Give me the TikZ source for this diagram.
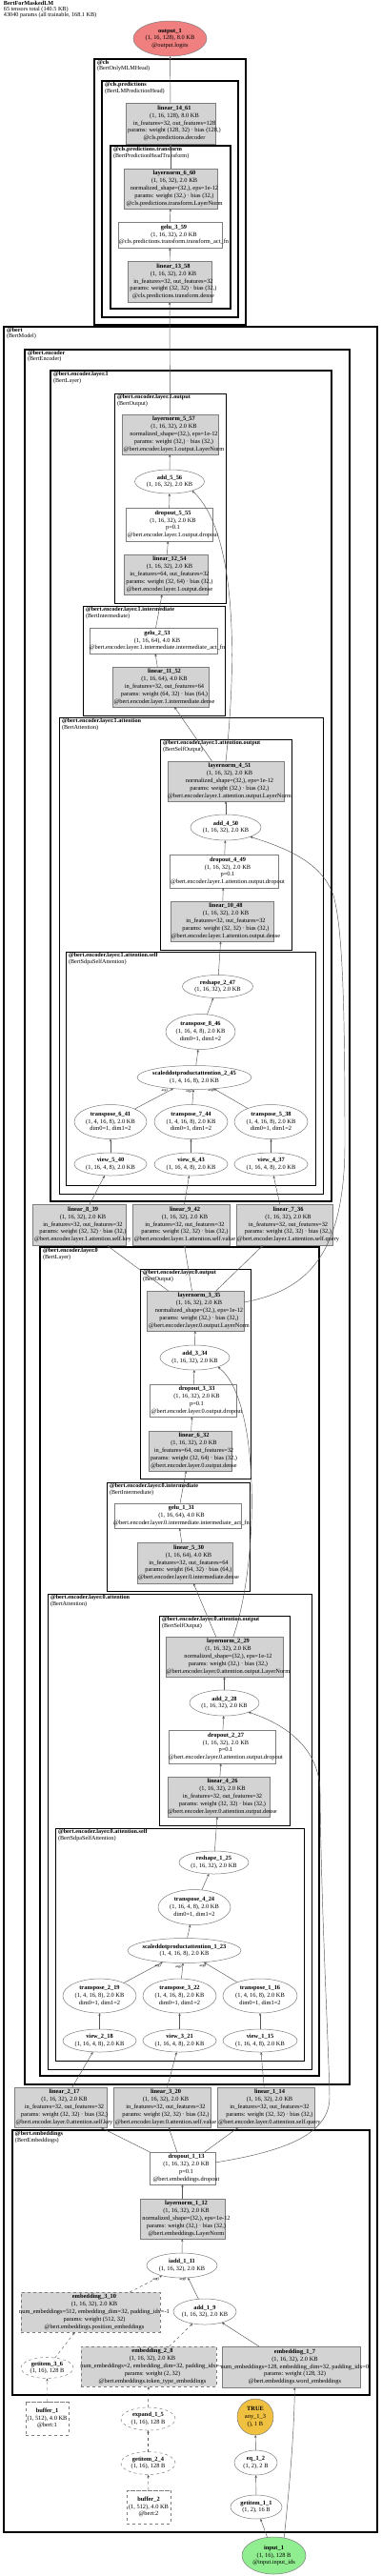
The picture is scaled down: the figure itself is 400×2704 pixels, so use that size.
\documentclass[tikz,border=0pt]{standalone}
\usepackage{fontspec}
\setmainfont{Liberation Serif}
\usetikzlibrary{shapes.geometric,arrows.meta}
\definecolor{boxgray}{RGB}{211,211,211}
\definecolor{bordergray}{RGB}{125,125,125}
\definecolor{edgegray}{RGB}{85,85,85}
\definecolor{outred}{RGB}{240,128,128}
\definecolor{ingreen}{RGB}{144,238,144}
\definecolor{anygold}{RGB}{240,192,64}
\newcommand{\btitle}[1]{\makebox[0pt]{\hspace*{8pt}\bfseries\detokenize{#1}}}
\newcommand{\bline}[1]{\makebox[0pt]{\hspace*{8pt}\detokenize{#1}}}
\newcommand{\etitle}[1]{\makebox[0pt]{\bfseries\detokenize{#1}}}
\newcommand{\eline}[1]{\makebox[0pt]{\detokenize{#1}}}
\tikzset{
  every node/.style={font=\fontsize{6.4}{7.8}\selectfont, inner sep=0pt, outer sep=0pt},
  sz/.style 2 args={minimum width=#1pt, minimum height=#2pt},
  gbox/.style={rectangle, draw=bordergray, fill=boxgray, line width=0.5pt, align=center},
  dgbox/.style={gbox, dashed},
  wbox/.style={rectangle, draw=bordergray, fill=white, line width=0.5pt, align=center},
  ell/.style={ellipse, draw=bordergray, fill=white, line width=0.5pt, align=center},
  dell/.style={ell, dashed},
  cyl/.style={cylinder, shape border rotate=90, aspect=0.4, draw=bordergray, dashed, fill=white, line width=0.5pt, align=center},
  edge/.style={draw=edgegray, line width=0.45pt, -{Stealth[length=3pt,width=2.4pt]}},
  dedge/.style={edge, dashed},
  clu/.style={draw=black},
  clab/.style={anchor=north west, align=left, font=\fontsize{6.2}{5.6}\selectfont},
  elab/.style={font=\fontsize{3.8}{4}\selectfont}
}
\begin{document}
\begin{tikzpicture}[x=1pt,y=-1pt]
\useasboundingbox (0,0) rectangle (400,2704);
\fill[white] (0,0) rectangle (400,2704);
% header
\node[anchor=north west, align=left, font=\fontsize{6.2}{5.7}\selectfont] (hdr) at (4,1.5) {\textbf{BertForMaskedLM}\\65 tensors total (140.5 KB)\\43040 params (all trainable, 168.1 KB)};

% clusters
\draw[clu, line width=1.6pt] (99,62) rectangle (258,341);
\node[clab] (c_cls) at (102,63.5) {\textbf{@cls}\\(BertOnlyMLMHead)};
\draw[clu, line width=1.3pt] (107,85) rectangle (250,333);
\node[clab] (c_clsp) at (110,86.5) {\textbf{@cls.predictions}\\(BertLMPredictionHead)};
\draw[clu, line width=1.1pt] (116,153) rectangle (242,324);
\node[clab] (c_clspt) at (119,154.5) {\textbf{@cls.predictions.transform}\\(BertPredictionHeadTransform)};

\draw[clu, line width=1.6pt] (4,343) rectangle (396,2658);
\node[clab] (c_bert) at (7,344.5) {\textbf{@bert}\\(BertModel)};
\draw[clu, line width=1.3pt] (26,367) rectangle (367,2188);
\node[clab] (c_enc) at (29,368.5) {\textbf{@bert.encoder}\\(BertEncoder)};
\draw[clu, line width=1.1pt] (53,389) rectangle (348,1261);
\node[clab] (c_l1) at (56,390.5) {\textbf{@bert.encoder.layer.1}\\(BertLayer)};
\draw[clu, line width=0.9pt] (120,413) rectangle (237,633);
\node[clab] (c_l1o) at (123,414.5) {\textbf{@bert.encoder.layer.1.output}\\(BertOutput)};
\draw[clu, line width=0.9pt] (87,636) rectangle (236,751);
\node[clab] (c_l1i) at (90,637.5) {\textbf{@bert.encoder.layer.1.intermediate}\\(BertIntermediate)};
\draw[clu, line width=0.9pt] (62,753) rectangle (339,1253);
\node[clab] (c_l1a) at (65,754.5) {\textbf{@bert.encoder.layer.1.attention}\\(BertAttention)};
\draw[clu, line width=0.75pt] (168,776) rectangle (306,997);
\node[clab] (c_l1ao) at (171,777.5) {\textbf{@bert.encoder.layer.1.attention.output}\\(BertSelfOutput)};
\draw[clu, line width=0.75pt] (69,999) rectangle (331,1244);
\node[clab] (c_l1as) at (72,1000.5) {\textbf{@bert.encoder.layer.1.attention.self}\\(BertSdpaSelfAttention)};
\draw[clu, line width=1.1pt] (42,1309) rectangle (335,2179);
\node[clab] (c_l0) at (45,1310.5) {\textbf{@bert.encoder.layer.0}\\(BertLayer)};
\draw[clu, line width=0.9pt] (147,1332) rectangle (263,1552);
\node[clab] (c_l0o) at (150,1333.5) {\textbf{@bert.encoder.layer.0.output}\\(BertOutput)};
\draw[clu, line width=0.9pt] (112,1556) rectangle (262,1670);
\node[clab] (c_l0i) at (115,1557.5) {\textbf{@bert.encoder.layer.0.intermediate}\\(BertIntermediate)};
\draw[clu, line width=0.9pt] (50,1673) rectangle (327,2172);
\node[clab] (c_l0a) at (53,1674.5) {\textbf{@bert.encoder.layer.0.attention}\\(BertAttention)};
\draw[clu, line width=0.75pt] (167,1696) rectangle (304,1916);
\node[clab] (c_l0ao) at (170,1697.5) {\textbf{@bert.encoder.layer.0.attention.output}\\(BertSelfOutput)};
\draw[clu, line width=0.75pt] (58,1919) rectangle (319,2163);
\node[clab] (c_l0as) at (61,1920.5) {\textbf{@bert.encoder.layer.0.attention.self}\\(BertSdpaSelfAttention)};
\draw[clu, line width=1.3pt] (13,2236) rectangle (388,2514);
\node[clab] (c_emb) at (16,2237.5) {\textbf{@bert.embeddings}\\(BertEmbeddings)};

% nodes: head
\node[ell, fill=outred, sz={77}{37}] (out1) at (178.5,40.5) {\etitle{output_1}\\\eline{(1, 16, 128), 8.0 KB}\\\eline{@output.logits}};
\node[gbox, sz={94}{43}] (lin14) at (179,129.5) {\btitle{linear_14_61}\\\bline{(1, 16, 128), 8.0 KB}\\\bline{in_features=32, out_features=128}\\\bline{params: weight (128, 32) · bias (128,)}\\\bline{@cls.predictions.decoder}};
\node[gbox, sz={98}{42}] (ln6) at (179,198) {\btitle{layernorm_6_60}\\\bline{(1, 16, 32), 2.0 KB}\\\bline{normalized_shape=(32,), eps=1e-12}\\\bline{params: weight (32,) · bias (32,)}\\\bline{@cls.predictions.transform.LayerNorm}};
\node[wbox, sz={109}{27}] (gelu3) at (178.5,246.5) {\btitle{gelu_3_59}\\\bline{(1, 16, 32), 2.0 KB}\\\bline{@cls.predictions.transform.transform_act_fn}};
\node[gbox, sz={88}{43}] (lin13) at (178,295.5) {\btitle{linear_13_58}\\\bline{(1, 16, 32), 2.0 KB}\\\bline{in_features=32, out_features=32}\\\bline{params: weight (32, 32) · bias (32,)}\\\bline{@cls.predictions.transform.dense}};

% layer 1
\node[gbox, sz={101}{42}] (ln5) at (178.5,456) {\btitle{layernorm_5_57}\\\bline{(1, 16, 32), 2.0 KB}\\\bline{normalized_shape=(32,), eps=1e-12}\\\bline{params: weight (32,) · bias (32,)}\\\bline{@bert.encoder.layer.1.output.LayerNorm}};
\node[ell, sz={73}{25}] (add5) at (178,505.5) {\etitle{add_5_56}\\\eline{(1, 16, 32), 2.0 KB}};
\node[wbox, sz={91}{35}] (drop5) at (177.5,550.5) {\btitle{dropout_5_55}\\\bline{(1, 16, 32), 2.0 KB}\\\bline{p=0.1}\\\bline{@bert.encoder.layer.1.output.dropout}};
\node[gbox, sz={88}{42}] (lin12) at (174,603) {\btitle{linear_12_54}\\\bline{(1, 16, 32), 2.0 KB}\\\bline{in_features=64, out_features=32}\\\bline{params: weight (32, 64) · bias (32,)}\\\bline{@bert.encoder.layer.1.output.dense}};
\node[wbox, sz={134}{27}] (gelu2) at (161,672.5) {\btitle{gelu_2_53}\\\bline{(1, 16, 64), 4.0 KB}\\\bline{@bert.encoder.layer.1.intermediate.intermediate_act_fn}};
\node[gbox, sz={101}{42}] (lin11) at (168.5,721) {\btitle{linear_11_52}\\\bline{(1, 16, 64), 4.0 KB}\\\bline{in_features=32, out_features=64}\\\bline{params: weight (64, 32) · bias (64,)}\\\bline{@bert.encoder.layer.1.intermediate.dense}};
\node[gbox, sz={122}{42}] (ln4) at (237,820) {\btitle{layernorm_4_51}\\\bline{(1, 16, 32), 2.0 KB}\\\bline{normalized_shape=(32,), eps=1e-12}\\\bline{params: weight (32,) · bias (32,)}\\\bline{@bert.encoder.layer.1.attention.output.LayerNorm}};
\node[ell, sz={74}{27}] (add4) at (237,868.5) {\etitle{add_4_50}\\\eline{(1, 16, 32), 2.0 KB}};
\node[wbox, sz={114}{35}] (drop4) at (235,914.5) {\btitle{dropout_4_49}\\\bline{(1, 16, 32), 2.0 KB}\\\bline{p=0.1}\\\bline{@bert.encoder.layer.1.attention.output.dropout}};
\node[gbox, sz={108}{42}] (lin10) at (233,967) {\btitle{linear_10_48}\\\bline{(1, 16, 32), 2.0 KB}\\\bline{in_features=32, out_features=32}\\\bline{params: weight (32, 32) · bias (32,)}\\\bline{@bert.encoder.layer.1.attention.output.dense}};
\node[ell, sz={74}{24}] (resh2) at (228.5,1035.5) {\etitle{reshape_2_47}\\\eline{(1, 16, 32), 2.0 KB}};
\node[ell, sz={73}{37}] (tr8) at (210.5,1083) {\etitle{transpose_8_46}\\\eline{(1, 16, 4, 8), 2.0 KB}\\\eline{dim0=1, dim1=2}};
\node[ell, sz={120}{25}] (sdpa2) at (204,1131) {\etitle{scaleddotproductattention_2_45}\\\eline{(1, 4, 16, 8), 2.0 KB}};
\node[ell, sz={76}{36}] (tr6) at (116,1177.5) {\etitle{transpose_6_41}\\\eline{(1, 4, 16, 8), 2.0 KB}\\\eline{dim0=1, dim1=2}};
\node[ell, sz={77}{36}] (tr7) at (200.5,1177.5) {\etitle{transpose_7_44}\\\eline{(1, 4, 16, 8), 2.0 KB}\\\eline{dim0=1, dim1=2}};
\node[ell, sz={77}{36}] (tr5) at (284.5,1177.5) {\etitle{transpose_5_38}\\\eline{(1, 4, 16, 8), 2.0 KB}\\\eline{dim0=1, dim1=2}};
\node[ell, sz={76}{24}] (v5) at (116,1222) {\etitle{view_5_40}\\\eline{(1, 16, 4, 8), 2.0 KB}};
\node[ell, sz={77}{24}] (v6) at (200.5,1222) {\etitle{view_6_43}\\\eline{(1, 16, 4, 8), 2.0 KB}};
\node[ell, sz={77}{24}] (v4) at (284.5,1222) {\etitle{view_4_37}\\\eline{(1, 16, 4, 8), 2.0 KB}};
\node[gbox, sz={98}{43}] (lin8) at (83,1285.5) {\btitle{linear_8_39}\\\bline{(1, 16, 32), 2.0 KB}\\\bline{in_features=32, out_features=32}\\\bline{params: weight (32, 32) · bias (32,)}\\\bline{@bert.encoder.layer.1.attention.self.key}};
\node[gbox, sz={102}{43}] (lin9) at (190,1285.5) {\btitle{linear_9_42}\\\bline{(1, 16, 32), 2.0 KB}\\\bline{in_features=32, out_features=32}\\\bline{params: weight (32, 32) · bias (32,)}\\\bline{@bert.encoder.layer.1.attention.self.value}};
\node[gbox, sz={101}{43}] (lin7) at (298.5,1285.5) {\btitle{linear_7_36}\\\bline{(1, 16, 32), 2.0 KB}\\\bline{in_features=32, out_features=32}\\\bline{params: weight (32, 32) · bias (32,)}\\\bline{@bert.encoder.layer.1.attention.self.query}};

% layer 0
\node[gbox, sz={102}{42}] (ln3) at (205,1376) {\btitle{layernorm_3_35}\\\bline{(1, 16, 32), 2.0 KB}\\\bline{normalized_shape=(32,), eps=1e-12}\\\bline{params: weight (32,) · bias (32,)}\\\bline{@bert.encoder.layer.0.output.LayerNorm}};
\node[ell, sz={73}{26}] (add3) at (204.5,1425) {\etitle{add_3_34}\\\eline{(1, 16, 32), 2.0 KB}};
\node[wbox, sz={91}{34}] (drop3) at (202.5,1470) {\btitle{dropout_3_33}\\\bline{(1, 16, 32), 2.0 KB}\\\bline{p=0.1}\\\bline{@bert.encoder.layer.0.output.dropout}};
\node[gbox, sz={87}{42}] (lin6) at (199.5,1523) {\btitle{linear_6_32}\\\bline{(1, 16, 32), 2.0 KB}\\\bline{in_features=64, out_features=32}\\\bline{params: weight (32, 64) · bias (32,)}\\\bline{@bert.encoder.layer.0.output.dense}};
\node[wbox, sz={133}{26}] (gelu1) at (186.5,1591) {\btitle{gelu_1_31}\\\bline{(1, 16, 64), 4.0 KB}\\\bline{@bert.encoder.layer.0.intermediate.intermediate_act_fn}};
\node[gbox, sz={100}{43}] (lin5) at (194,1640.5) {\btitle{linear_5_30}\\\bline{(1, 16, 64), 4.0 KB}\\\bline{in_features=32, out_features=64}\\\bline{params: weight (64, 32) · bias (64,)}\\\bline{@bert.encoder.layer.0.intermediate.dense}};
\node[gbox, sz={123}{42}] (ln2) at (235.5,1739) {\btitle{layernorm_2_29}\\\bline{(1, 16, 32), 2.0 KB}\\\bline{normalized_shape=(32,), eps=1e-12}\\\bline{params: weight (32,) · bias (32,)}\\\bline{@bert.encoder.layer.0.attention.output.LayerNorm}};
\node[ell, sz={73}{27}] (add2) at (235.5,1787.5) {\etitle{add_2_28}\\\eline{(1, 16, 32), 2.0 KB}};
\node[wbox, sz={112}{35}] (drop2) at (233,1833.5) {\btitle{dropout_2_27}\\\bline{(1, 16, 32), 2.0 KB}\\\bline{p=0.1}\\\bline{@bert.encoder.layer.0.attention.output.dropout}};
\node[gbox, sz={107}{42}] (lin4) at (229.5,1886) {\btitle{linear_4_26}\\\bline{(1, 16, 32), 2.0 KB}\\\bline{in_features=32, out_features=32}\\\bline{params: weight (32, 32) · bias (32,)}\\\bline{@bert.encoder.layer.0.attention.output.dense}};
\node[ell, sz={73}{24}] (resh1) at (224.5,1955) {\etitle{reshape_1_25}\\\eline{(1, 16, 32), 2.0 KB}};
\node[ell, sz={76}{37}] (tr4) at (204,2002) {\etitle{transpose_4_24}\\\eline{(1, 16, 4, 8), 2.0 KB}\\\eline{dim0=1, dim1=2}};
\node[ell, sz={119}{26}] (sdpa1) at (193.5,2047.5) {\etitle{scaleddotproductattention_1_23}\\\eline{(1, 4, 16, 8), 2.0 KB}};
\node[ell, sz={77}{36}] (tr2) at (104.5,2095) {\etitle{transpose_2_19}\\\eline{(1, 4, 16, 8), 2.0 KB}\\\eline{dim0=1, dim1=2}};
\node[ell, sz={77}{36}] (tr3) at (188.5,2095) {\etitle{transpose_3_22}\\\eline{(1, 4, 16, 8), 2.0 KB}\\\eline{dim0=1, dim1=2}};
\node[ell, sz={78}{36}] (tr1) at (273,2095) {\etitle{transpose_1_16}\\\eline{(1, 4, 16, 8), 2.0 KB}\\\eline{dim0=1, dim1=2}};
\node[ell, sz={77}{24}] (v2) at (104.5,2142) {\etitle{view_2_18}\\\eline{(1, 16, 4, 8), 2.0 KB}};
\node[ell, sz={77}{24}] (v3) at (188.5,2142) {\etitle{view_3_21}\\\eline{(1, 16, 4, 8), 2.0 KB}};
\node[ell, sz={78}{24}] (v1) at (273,2142) {\etitle{view_1_15}\\\eline{(1, 16, 4, 8), 2.0 KB}};
\node[gbox, sz={97}{42}] (lin2) at (63.5,2212) {\btitle{linear_2_17}\\\bline{(1, 16, 32), 2.0 KB}\\\bline{in_features=32, out_features=32}\\\bline{params: weight (32, 32) · bias (32,)}\\\bline{@bert.encoder.layer.0.attention.self.key}};
\node[gbox, sz={102}{42}] (lin3) at (170,2212) {\btitle{linear_3_20}\\\bline{(1, 16, 32), 2.0 KB}\\\bline{in_features=32, out_features=32}\\\bline{params: weight (32, 32) · bias (32,)}\\\bline{@bert.encoder.layer.0.attention.self.value}};
\node[gbox, sz={102}{42}] (lin1) at (279,2212) {\btitle{linear_1_14}\\\bline{(1, 16, 32), 2.0 KB}\\\bline{in_features=32, out_features=32}\\\bline{params: weight (32, 32) · bias (32,)}\\\bline{@bert.encoder.layer.0.attention.self.query}};

% embeddings
\node[wbox, sz={69}{34}] (drop1) at (191.5,2276) {\btitle{dropout_1_13}\\\bline{(1, 16, 32), 2.0 KB}\\\bline{p=0.1}\\\bline{@bert.embeddings.dropout}};
\node[gbox, sz={89}{42}] (ln1) at (191.5,2329) {\btitle{layernorm_1_12}\\\bline{(1, 16, 32), 2.0 KB}\\\bline{normalized_shape=(32,), eps=1e-12}\\\bline{params: weight (32,) · bias (32,)}\\\bline{@bert.embeddings.LayerNorm}};
\node[ell, sz={74}{26}] (iadd1) at (191,2378) {\etitle{iadd_1_11}\\\eline{(1, 16, 32), 2.0 KB}};
\node[dgbox, sz={146}{42}] (emb3) at (95,2427) {\btitle{embedding_3_10}\\\bline{(1, 16, 32), 2.0 KB}\\\bline{num_embeddings=512, embedding_dim=32, padding_idx=-1}\\\bline{params: weight (512, 32)}\\\bline{@bert.embeddings.position_embeddings}};
\node[ell, sz={66}{27}] (add1) at (215,2426.5) {\etitle{add_1_9}\\\eline{(1, 16, 32), 2.0 KB}};
\node[dgbox, sz={142}{42}] (emb2) at (156,2484) {\btitle{embedding_2_8}\\\bline{(1, 16, 32), 2.0 KB}\\\bline{num_embeddings=2, embedding_dim=32, padding_idx=-1}\\\bline{params: weight (2, 32)}\\\bline{@bert.embeddings.token_type_embeddings}};
\node[gbox, sz={145}{43}] (emb1) at (305.5,2484.5) {\btitle{embedding_1_7}\\\bline{(1, 16, 32), 2.0 KB}\\\bline{num_embeddings=128, embedding_dim=32, padding_idx=0}\\\bline{params: weight (128, 32)}\\\bline{@bert.embeddings.word_embeddings}};
\node[dell, sz={55}{22}] (gi3) at (49.5,2485.5) {\etitle{getitem_3_6}\\\eline{(1, 16), 128 B}};
\node[cyl, sz={45}{35}] (buf1) at (49.5,2538.5) {\etitle{buffer_1}\\\eline{(1, 512), 4.0 KB}\\\eline{@bert:1}};
\node[dell, sz={57}{24}] (exp1) at (155.5,2539) {\etitle{expand_1_5}\\\eline{(1, 16), 128 B}};
\node[dell, sz={57}{24}] (gi2) at (155.5,2585.5) {\etitle{getitem_2_4}\\\eline{(1, 16), 128 B}};
\node[cyl, sz={46}{35}] (buf2) at (156,2631.5) {\etitle{buffer_2}\\\eline{(1, 512), 4.0 KB}\\\eline{@bert:2}};
\node[circle, draw=bordergray, fill=anygold, line width=0.5pt, minimum size=38pt, align=center] (any1) at (268,2537) {\etitle{TRUE}\\\eline{any_1_3}\\\eline{(), 1 B}};
\node[ell, sz={45}{26}] (eq1) at (268.5,2585) {\etitle{eq_1_2}\\\eline{(1, 2), 2 B}};
\node[ell, sz={54}{25}] (gi1) at (269,2631.5) {\etitle{getitem_1_1}\\\eline{(1, 2), 16 B}};
\node[ell, fill=ingreen, sz={67}{39}] (in1) at (287.5,2682.5) {\etitle{input_1}\\\eline{(1, 16), 128 B}\\\eline{@input.input_ids}};

% edges: head and layer 1
\draw[edge] (lin14) -- (out1);
\draw[edge] (ln6) -- (lin14);
\draw[edge] (gelu3) -- (ln6);
\draw[edge] (lin13) -- (gelu3);
\draw[edge] (ln5) -- (lin13);
\draw[edge] (add5) -- (ln5);
\draw[edge] (drop5) -- (add5);
\draw[edge] (lin12) -- (drop5);
\draw[edge] (gelu2) -- (lin12);
\draw[edge] (lin11) -- (gelu2);
\draw[edge] (ln4) -- (lin11);
\draw[edge] (ln4.north) .. controls (248,700) and (250,560) .. (add5.-22);
\draw[edge] (add4) -- (ln4);
\draw[edge] (drop4) -- (add4);
\draw[edge] (lin10) -- (drop4);
\draw[edge] (resh2) -- (lin10);
\draw[edge] (tr8) -- (resh2);
\draw[edge] (sdpa2) -- (tr8);
\draw[edge] (tr6) -- (sdpa2);
\draw[edge] (tr7) -- (sdpa2);
\draw[edge] (tr5) -- (sdpa2);
\draw[edge] (v5) -- (tr6);
\draw[edge] (v6) -- (tr7);
\draw[edge] (v4) -- (tr5);
\draw[edge] (lin8) -- (v5);
\draw[edge] (lin9) -- (v6);
\draw[edge] (lin7) -- (v4);
\node[elab] (a1l1) at (173,1145) {arg1};
\node[elab] (a2l1) at (198.5,1146) {arg2};
\node[elab] (a0l1) at (222,1145) {arg0};
% layer 0
\draw[edge] (ln3) -- (lin8);
\draw[edge] (ln3) -- (lin9);
\draw[edge] (ln3) -- (lin7);
\draw[edge] (ln3.10) .. controls (320,1355) and (362,1320) .. (362,1200) .. controls (362,1060) and (360,975) .. (350,940) .. controls (338,905) and (300,890) .. (add4.-21);
\draw[edge] (add3) -- (ln3);
\draw[edge] (drop3) -- (add3);
\draw[edge] (lin6) -- (drop3);
\draw[edge] (gelu1) -- (lin6);
\draw[edge] (lin5) -- (gelu1);
\draw[edge] (ln2) -- (lin5);
\draw[edge] (ln2.66) .. controls (272,1640) and (274,1470) .. (add3.-22);
\draw[edge] (add2) -- (ln2);
\draw[edge] (drop2) -- (add2);
\draw[edge] (lin4) -- (drop2);
\draw[edge] (resh1) -- (lin4);
\draw[edge] (tr4) -- (resh1);
\draw[edge] (sdpa1) -- (tr4);
\draw[edge] (tr2) -- (sdpa1);
\draw[edge] (tr3) -- (sdpa1);
\draw[edge] (tr1) -- (sdpa1);
\draw[edge] (v2) -- (tr2);
\draw[edge] (v3) -- (tr3);
\draw[edge] (v1) -- (tr1);
\draw[edge] (lin2) -- (v2);
\draw[edge] (lin3) -- (v3);
\draw[edge] (lin1) -- (v1);
\node[elab] (a1l0) at (166,2064) {arg1};
\node[elab] (a2l0) at (187.5,2065) {arg2};
\node[elab] (a0l0) at (213,2064) {arg0};
% embeddings
\draw[edge] (drop1) -- (lin2);
\draw[edge] (drop1) -- (lin3);
\draw[edge] (drop1) -- (lin1);
\draw[edge] (drop1.10) .. controls (300,2258) and (347,2240) .. (346,2200) .. controls (345,2150) and (337,2000) .. (336,1880) .. controls (335,1835) and (300,1810) .. (add2.-21);
\draw[edge] (ln1) -- (drop1);
\draw[edge] (iadd1) -- (ln1);
\draw[edge] (add1) -- (iadd1);
\draw[dedge] (emb3) -- (iadd1);
\node[elab] (a1e) at (164,2393) {arg1};
\node[elab] (a0e) at (192,2393) {arg0};
\draw[dedge] (emb2) -- (add1);
\draw[edge] (emb1) -- (add1);
\draw[dedge] (gi3) -- (emb3);
\draw[dedge] (buf1) -- (gi3);
\draw[dedge] (exp1) -- (emb2);
\draw[dedge] (gi2) -- (exp1);
\draw[dedge] (buf2) -- (gi2);
\draw[edge] (eq1) -- (any1);
\draw[edge] (gi1) -- (eq1);
\draw[edge] (in1) -- (gi1);
\draw[edge] (in1.60) .. controls (304,2610) and (309,2550) .. (emb1.-80);
\end{tikzpicture}
\end{document}
